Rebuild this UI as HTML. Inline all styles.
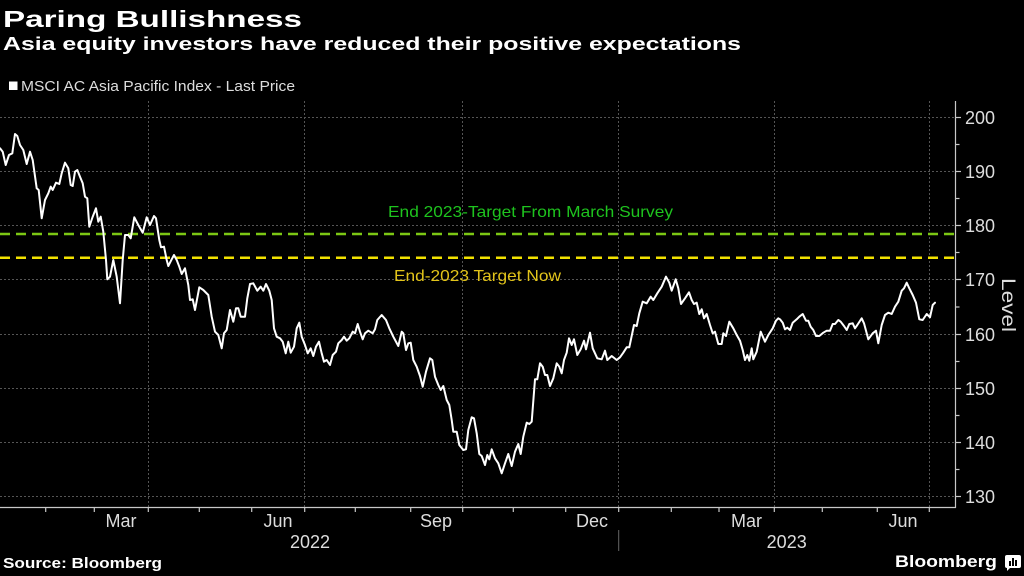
<!DOCTYPE html>
<html>
<head>
<meta charset="utf-8">
<style>
html,body{margin:0;padding:0;background:#000;}
svg{display:block;}
text{font-family:"Liberation Sans",sans-serif;}
</style>
</head>
<body>
<svg width="1024" height="576" viewBox="0 0 1024 576" xmlns="http://www.w3.org/2000/svg">
<rect width="1024" height="576" fill="#000"/>

<!-- Titles -->
<text x="3" y="27" font-size="23" font-weight="bold" fill="#fff" textLength="299" lengthAdjust="spacingAndGlyphs">Paring Bullishness</text>
<text x="3" y="50" font-size="18" font-weight="bold" fill="#fff" textLength="738" lengthAdjust="spacingAndGlyphs">Asia equity investors have reduced their positive expectations</text>

<!-- Legend -->
<rect x="9" y="81.5" width="8.5" height="8.5" fill="#fff"/>
<text x="21" y="91" font-size="14.5" fill="#ddd" textLength="274" lengthAdjust="spacingAndGlyphs">MSCI AC Asia Pacific Index - Last Price</text>

<!-- Horizontal gridlines -->
<g stroke="#555" stroke-width="1" stroke-dasharray="2,2">
<line x1="0" y1="117.5" x2="955" y2="117.5"/>
<line x1="0" y1="171.5" x2="955" y2="171.5"/>
<line x1="0" y1="225.5" x2="955" y2="225.5"/>
<line x1="0" y1="279.5" x2="955" y2="279.5"/>
<line x1="0" y1="334.5" x2="955" y2="334.5"/>
<line x1="0" y1="388.5" x2="955" y2="388.5"/>
<line x1="0" y1="442.5" x2="955" y2="442.5"/>
<line x1="0" y1="496.5" x2="955" y2="496.5"/>
<!-- Vertical gridlines -->
<line x1="148.5" y1="101" x2="148.5" y2="507"/>
<line x1="304.5" y1="101" x2="304.5" y2="507"/>
<line x1="462.5" y1="101" x2="462.5" y2="507"/>
<line x1="618.5" y1="101" x2="618.5" y2="507"/>
<line x1="774.5" y1="101" x2="774.5" y2="507"/>
<line x1="929.5" y1="101" x2="929.5" y2="507"/>
</g>

<!-- Target lines -->
<line x1="0" y1="234" x2="955" y2="234" stroke="#7cc714" stroke-width="2.5" stroke-dasharray="10,6"/>
<line x1="0" y1="257.7" x2="955" y2="257.7" stroke="#f2e200" stroke-width="2.5" stroke-dasharray="10,6"/>
<text x="388" y="217" font-size="16" fill="#1ec31e" textLength="285" lengthAdjust="spacingAndGlyphs">End 2023-Target From March Survey</text>
<text x="394" y="281" font-size="16" fill="#e2c41a" textLength="167" lengthAdjust="spacingAndGlyphs">End-2023 Target Now</text>

<!-- Series -->
<polyline fill="none" stroke="#fff" stroke-width="2" stroke-linejoin="round" stroke-linecap="round" points="
0,148.3 2.7,151.7 5.7,165 9,155 12.3,153.3 15,134 17.3,136 20,145 23.3,150 26.7,164 30,151.7 32.7,160 36.7,188.3 38.7,190 41.7,218.3 45,200 48.3,193.3 50.7,186.7 52.7,190 56,182.7 59.3,184 61.7,173.3 65,162.7 68.3,168.3 70.7,185 72.7,186 75,171.7 77.3,170 80,176.7 82.7,183.3 85,196.7 87.3,198.3 89.3,226.7 92.7,216.7 96,208.3 98.3,221.7 100.7,216.7 103.3,231.7 106,260 107.3,279.3 110,276.7 113.3,260 116.7,276.7 120,303.3 122.7,260 125,235 128.3,235 130.7,238.3 134.3,217.3 138.3,225 142.7,232.7 146.7,217.3 150,225 154,216 156,218.3 159.3,240 161,247.3 164,246.7 166.7,260 168.3,266 171.7,259.3 174,255 176.7,260 179.3,266.7 181.7,274 185,268.3 188.3,285 190,300 192.7,299.3 195,310 199.3,287.3 203.3,290 208.3,295 211.7,316.7 215,331.7 218.3,335 221.7,348.3 224,333.3 226.7,330
230,310 233.3,321.7 236,308.3 238.3,308.3 240.7,316.7 245,316.7 247.3,298.3 250,284 253.3,283.3 257.3,290.7 260.7,286.7 263.3,290.7 266,284 269.3,290.7 271.7,300 274,328.3 276.7,336.7 280,338.3 282.7,341.7 285.7,353.3 288.3,341.7 290.7,352.7 294,346.7 296.7,328.3 299.3,322.7 301.7,336.7 305,345 307.7,353.3 310.7,348.3 313.3,356 316,346.7 319,341.7 321.7,353.3 324,361.7 326.7,360 330,365 332.7,355 336,351.7 338.3,343.3 341.7,340 344,336.7 346.7,340.7 349.3,338.3 352.7,331.7 355,333.3 357.7,324 360,331.7 362.7,339.3 365,333.3 368.3,330.7 372.7,333.3 375,329.3 377.3,320 381.7,315 386,320 389.3,328.3 393.3,336.7 398.3,346 401.7,331.7 403.3,333.3 406,350 408.3,343.3 410.7,342.7 413.3,360 416.7,366.7 420,376 422.7,386.7 426,371.7 430,358.3 432.3,360 435,376.7 438.3,385 440.7,390 443.3,386 446.7,400 449.3,405 451.7,420 453.3,431.7 456.7,431.7 459.3,445 463.3,450 466,449.3
468.3,430 471.7,417.3 474,418.3 476.7,433.3 479.3,454 481.7,456 485,465 487.3,455 489.3,459.3 491.7,449.3 495,458.3 498.3,463.3 501.7,473.3 505,463.3 508.3,454 511.7,466 515,451.7 518.3,444 520.7,454 523.3,436.7 526.7,422.7 529.3,424 531.7,421.7 535,379.3 537.3,379.3 540,363.3 542.7,366.7 545,375 547.3,375 550,386 553.3,378.3 556.7,363.3 559.3,366.7 561.7,373.3 564,360 566.7,352.7 569,338.3 571.7,345 574,339.3 577.3,355 580.7,349.3 584,340.7 586,349.3 590,332.7 592.7,348.3 597.3,358.3 601.7,359.3 605,350.7 607.3,360 611.7,356 616.7,360
620,357.3 623.3,352.7 626.7,347.3 629.3,347.3 634,325 636.7,326 639.3,313.3 642.7,301.7 646.7,303.3 650.7,296.7 653.3,300 657.3,293.3 661.7,286.7 666,276.7 669.3,282.7 671.7,290.7 675.7,279.3 678.3,288.3 681,304 685,298.3 689,292.3 691.7,300 694,304 696.7,302.7 699.3,314 701.7,309.3 704,318.3 706.7,314 710,325 712.7,333.3 715,331.7 718.3,344 721.7,344 723.3,333.3 726,336 729.3,321.7 733.3,328.3 736.7,335 740,340.7 742.7,350 745,360 747.3,355 749.3,360.7 751.7,348.3 753.3,359.3 756.7,351.7 760.7,331.7 765,341.7 768.3,335 772.7,328.3 776,320.7 778.3,318.3
780,319.3 782.7,322.7 785,329.3 787.3,327.7 790,330 792.7,322.7 796.7,319.3 799.3,316.7 802.7,314 806,320.7 808.3,320.7 810.7,326.7 813.3,330 816,336 819.3,336 823.3,332.7 826.7,330.7 830,330.7 832.7,324 835,324 838.3,320 840.7,321.7 844,326 846.7,330 849.3,324 852.7,323.3 855,328.3 857.3,325 861.7,318.3 864,323.3 868.3,339.3 872.7,333.3 876,330.7 878.3,343.3 881.7,325 885,315 888.3,312.7 891.7,314 895,306.7 898.3,301.7 901.7,290.7 904,288.3 906.7,282.7 909.3,288.3 912.7,295 916,302.7 919.3,319.3 922.7,320 926.7,314 930,317.3 932.7,305 935,302.7"/>

<!-- Axes -->
<g stroke="#c8c8c8" stroke-width="1.2" fill="none">
<line x1="0" y1="507.5" x2="956" y2="507.5"/>
<line x1="955.5" y1="101" x2="955.5" y2="508"/>
<!-- y ticks major -->
<line x1="956" y1="117.5" x2="961" y2="117.5"/>
<line x1="956" y1="171.5" x2="961" y2="171.5"/>
<line x1="956" y1="225.5" x2="961" y2="225.5"/>
<line x1="956" y1="279.5" x2="961" y2="279.5"/>
<line x1="956" y1="334.5" x2="961" y2="334.5"/>
<line x1="956" y1="388.5" x2="961" y2="388.5"/>
<line x1="956" y1="442.5" x2="961" y2="442.5"/>
<line x1="956" y1="496.5" x2="961" y2="496.5"/>
<!-- y ticks minor -->
<line x1="956" y1="144.5" x2="959.5" y2="144.5"/>
<line x1="956" y1="198.5" x2="959.5" y2="198.5"/>
<line x1="956" y1="252.5" x2="959.5" y2="252.5"/>
<line x1="956" y1="307" x2="959.5" y2="307"/>
<line x1="956" y1="361.5" x2="959.5" y2="361.5"/>
<line x1="956" y1="415.5" x2="959.5" y2="415.5"/>
<line x1="956" y1="469.5" x2="959.5" y2="469.5"/>
<!-- x ticks -->
<line x1="45.7" y1="507" x2="45.7" y2="512"/>
<line x1="94.3" y1="507" x2="94.3" y2="512"/>
<line x1="148.3" y1="507" x2="148.3" y2="512"/>
<line x1="199.3" y1="507" x2="199.3" y2="512"/>
<line x1="251.7" y1="507" x2="251.7" y2="512"/>
<line x1="304.7" y1="507" x2="304.7" y2="512"/>
<line x1="355.3" y1="507" x2="355.3" y2="512"/>
<line x1="410.7" y1="507" x2="410.7" y2="512"/>
<line x1="462.7" y1="507" x2="462.7" y2="512"/>
<line x1="513.3" y1="507" x2="513.3" y2="512"/>
<line x1="565.7" y1="507" x2="565.7" y2="512"/>
<line x1="618.7" y1="507" x2="618.7" y2="512"/>
<line x1="671.3" y1="507" x2="671.3" y2="512"/>
<line x1="719" y1="507" x2="719" y2="512"/>
<line x1="774.3" y1="507" x2="774.3" y2="512"/>
<line x1="822.3" y1="507" x2="822.3" y2="512"/>
<line x1="877.3" y1="507" x2="877.3" y2="512"/>
<line x1="929.3" y1="507" x2="929.3" y2="512"/>
</g>
<line x1="618.7" y1="530" x2="618.7" y2="551" stroke="#666" stroke-width="1"/>

<!-- Y labels -->
<g font-size="18" fill="#ddd">
<text x="965" y="124">200</text>
<text x="965" y="178">190</text>
<text x="965" y="232">180</text>
<text x="965" y="286">170</text>
<text x="965" y="341">160</text>
<text x="965" y="395">150</text>
<text x="965" y="449">140</text>
<text x="965" y="503">130</text>
</g>
<text transform="translate(1002,305) rotate(90)" font-size="19" fill="#ddd" text-anchor="middle" textLength="54" lengthAdjust="spacingAndGlyphs">Level</text>

<!-- X labels -->
<g font-size="18" fill="#ddd" text-anchor="middle">
<text x="121" y="527">Mar</text>
<text x="278" y="527">Jun</text>
<text x="436" y="527">Sep</text>
<text x="592" y="527">Dec</text>
<text x="746.5" y="527">Mar</text>
<text x="903" y="527">Jun</text>
<text x="310" y="548">2022</text>
<text x="786.7" y="548">2023</text>
</g>

<!-- Footer -->
<text x="3" y="568" font-size="15" font-weight="bold" fill="#fff" textLength="159" lengthAdjust="spacingAndGlyphs">Source: Bloomberg</text>
<text x="895" y="567" font-size="17" font-weight="bold" fill="#fff" textLength="102" lengthAdjust="spacingAndGlyphs">Bloomberg</text>
<g>
<rect x="1005" y="555" width="16" height="13" rx="2" fill="#fff"/>
<polygon points="1007,567 1011,567 1007,571" fill="#fff"/>
<rect x="1009" y="561" width="2" height="5" fill="#000"/>
<rect x="1012" y="558" width="2" height="8" fill="#000"/>
<rect x="1015" y="560" width="2" height="6" fill="#000"/>
</g>
</svg>
</body>
</html>
